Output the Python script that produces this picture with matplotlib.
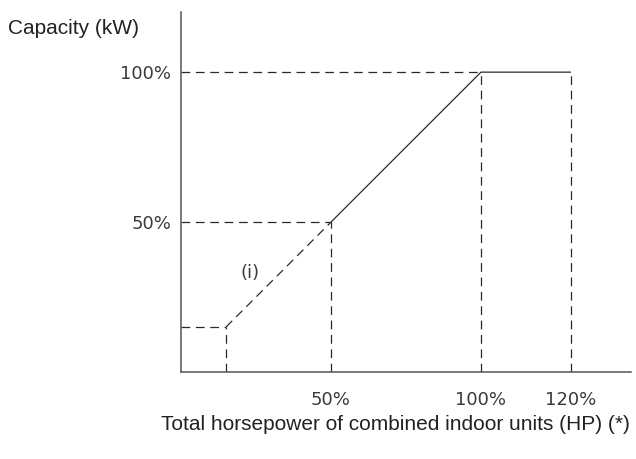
import matplotlib.pyplot as plt
import matplotlib as mpl

mpl.rcParams['font.family'] = ['Liberation Sans', 'DejaVu Sans']

# schematic axis positions (not to scale beyond 100%)
x_tick_pos = [50, 100, 130]
x_tick_labels = ['50%', '100%', '120%']
y_tick_pos = [50, 100]
y_tick_labels = ['50%', '100%']

# capacity curve: (i) dashed low-load part, then solid up to 100% and flat to 120%
low_x = [15, 50]
low_y = [15, 50]
main_x = [50, 100, 130]
main_y = [50, 100, 100]

# guide lines back to the axes
guide_pts = [(15, 15), (50, 50), (100, 100), (130, 100)]

fig = plt.figure(figsize=(6.36, 4.59), dpi=100)
ax = fig.add_axes([0.2846, 0.1895, 0.7075, 0.784])

line_col = '#2a2a2a'
dash = (0, (7, 4.5))

ax.plot(main_x, main_y, color=line_col, lw=0.9, solid_capstyle='butt')
ax.plot(low_x, low_y, color=line_col, lw=0.9, linestyle=dash)

for gx, gy in guide_pts:
    ax.plot([gx, gx], [0, gy], color=line_col, lw=0.9, linestyle=dash)
    if gx != 130:
        ax.plot([0, gx], [gy, gy], color=line_col, lw=0.9, linestyle=dash)

ax.text(23, 33, '(i)', fontsize=13, color='#3a3a3a', family='DejaVu Sans',
        ha='center', va='center')

ax.set_xlim(0, 150)
ax.set_ylim(0, 120)
ax.set_xticks(x_tick_pos)
ax.set_xticklabels(x_tick_labels)
ax.set_yticks(y_tick_pos)
ax.set_yticklabels(y_tick_labels)
ax.tick_params(length=0, labelsize=13, labelcolor='#3a3a3a')
ax.tick_params(axis='x', pad=14)
ax.tick_params(axis='y', pad=7)
for lab in ax.get_xticklabels() + ax.get_yticklabels():
    lab.set_family('DejaVu Sans')

for s in ['top', 'right']:
    ax.spines[s].set_visible(False)
for s in ['left', 'bottom']:
    ax.spines[s].set_color('#555555')
    ax.spines[s].set_linewidth(1.1)

fig.text(8 / 636, 1 - 29 / 459, 'Capacity (kW)', fontsize=15, color='#222222',
         ha='left', va='center')
fig.text(161 / 636, 1 - 425 / 459, 'Total horsepower of combined indoor units (HP) (*)',
         fontsize=15, color='#222222', ha='left', va='center')

fig.savefig('out.png', dpi=100)
